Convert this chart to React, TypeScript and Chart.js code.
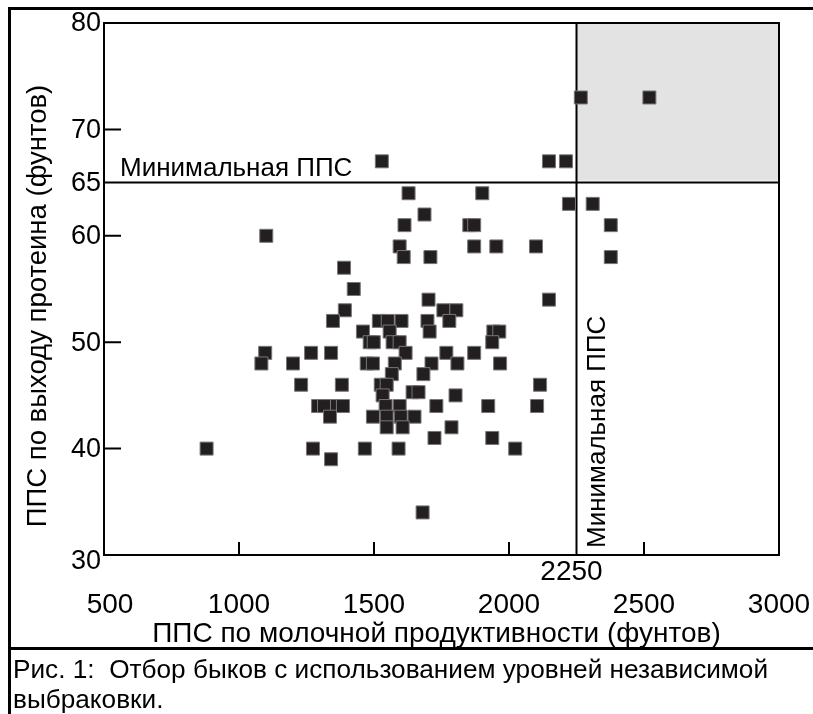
import React, { useEffect, useRef } from "react";
import { Chart, registerables } from "chart.js";

Chart.register(...registerables);

// Data: ППС по молочной продуктивности (x), ППС по выходу протеина (y)
const milkPTA = [
  880, 1101, 1097, 1083, 1200, 1267, 1341, 1230, 1381, 1293, 1315, 1363, 1385, 1337, 1274, 1341,
  1389, 1425, 1392, 1348, 1529, 1628, 1901, 1687, 1613, 1853, 1871, 1595, 1610, 1709, 1871, 1953,
  1702, 1757, 1805, 1518, 1551, 1602, 1698, 1779, 1459, 1558, 1706, 1942, 1964, 2148, 2211, 2222,
  2310, 2377, 2377, 2100, 2148, 2266, 2520, 1484, 1499, 1569, 1595, 1938, 1617, 1768, 1871, 1473,
  1496, 1577, 1713, 1809, 1967, 1566, 1683, 1525, 1547, 2115, 1532, 1643, 1665, 1802, 1543, 1595,
  1731, 1923, 2104, 1496, 1547, 1599, 1650, 1547, 1606, 1787, 1724, 1938, 1466, 1591, 2023, 1680,
];
const proteinPTA = [
  40, 60, 49, 48, 48, 49, 49, 46, 46, 44, 44, 44, 44, 43, 40, 39,
  57, 55, 53, 52, 67, 64, 64, 62, 61, 61, 61, 59, 58, 58, 59, 59,
  54, 53, 53, 52, 52, 52, 52, 52, 51, 51, 51, 51, 51, 67, 67, 63,
  63, 61, 58, 59, 54, 73, 73, 50, 50, 50, 50, 50, 49, 49, 49, 48,
  48, 48, 48, 48, 48, 47, 47, 46, 46, 46, 45, 45.3, 45.3, 45, 44, 44,
  44, 44, 44, 43, 43, 43, 43, 42, 42, 42, 41, 41, 40, 40, 40, 34,
];

const xTickMarks = [1000, 1500, 2000, 2500];
const xTickLabels = [500, 1000, 1500, 2000, 2500, 3000];
const xCutoffLabel = 2250;
const yTickMarks = [40, 50, 60, 70];
const yTickLabels = [30, 40, 50, 60, 65, 70, 80];

const milkCutoff = 2250;
const proteinCutoff = 65;

const xTitle = "ППС по молочной продуктивности (фунтов)";
const yTitle = "ППС по выходу протеина (фунтов)";
const cutoffText = "Минимальная ППС";
const captionLines = [
  "Рис. 1:  Отбор быков с использованием уровней независимой",
  "выбраковки.",
];

const FONT = '"Liberation Sans", Arial, Helvetica, sans-serif';

const figurePlugin = {
  id: "figure",
  beforeDatasetsDraw(chart: any) {
    const { ctx, chartArea, scales } = chart;
    const xs = scales.x;
    const ys = scales.y;
    ctx.save();
    // shaded selection region
    const sx = xs.getPixelForValue(milkCutoff);
    const ex = xs.getPixelForValue(3000);
    const sy = ys.getPixelForValue(80);
    const ey = ys.getPixelForValue(proteinCutoff);
    ctx.fillStyle = "#e3e3e3";
    ctx.fillRect(sx, sy, ex - sx, ey - sy - 2);

    // cutoff lines
    ctx.strokeStyle = "#000";
    ctx.lineWidth = 2;
    ctx.beginPath();
    ctx.moveTo(chartArea.left, ey);
    ctx.lineTo(chartArea.right, ey);
    ctx.moveTo(sx, chartArea.top);
    ctx.lineTo(sx, chartArea.bottom);
    ctx.stroke();

    // plot border
    ctx.strokeRect(chartArea.left, chartArea.top, chartArea.right - chartArea.left, chartArea.bottom - chartArea.top);

    // tick marks
    ctx.beginPath();
    yTickMarks.forEach((v) => {
      const y = ys.getPixelForValue(v);
      ctx.moveTo(chartArea.left, y);
      ctx.lineTo(chartArea.left + 17, y);
    });
    xTickMarks.forEach((v) => {
      const x = xs.getPixelForValue(v);
      ctx.moveTo(x, chartArea.bottom);
      ctx.lineTo(x, chartArea.bottom - 13);
    });
    ctx.stroke();

    // cutoff labels
    ctx.fillStyle = "#000";
    ctx.font = `26px ${FONT}`;
    ctx.textAlign = "left";
    ctx.textBaseline = "alphabetic";
    ctx.fillText(cutoffText, xs.getPixelForValue(500) + 16, ey - 7);

    ctx.save();
    ctx.translate(sx + 21, ys.getPixelForValue(30) - 7);
    ctx.rotate(-Math.PI / 2);
    ctx.textBaseline = "middle";
    ctx.fillText(cutoffText, 0, 0);
    ctx.restore();

    // tick labels
    ctx.font = `27px ${FONT}`;
    ctx.textAlign = "right";
    ctx.textBaseline = "middle";
    yTickLabels.forEach((v) => {
      const off = v === 30 ? 7 : 1;
      ctx.fillText(String(v), chartArea.left - 3, ys.getPixelForValue(v) + off);
    });
    ctx.font = `28px ${FONT}`;
    ctx.textAlign = "center";
    ctx.fillText(String(xCutoffLabel), xs.getPixelForValue(xCutoffLabel) - 5, chartArea.bottom + 17);
    xTickLabels.forEach((v) => {
      ctx.fillText(String(v), xs.getPixelForValue(v) + (v === 500 ? 6 : 0), chartArea.bottom + 50);
    });

    // axis titles
    ctx.font = `28px ${FONT}`;
    ctx.fillText(xTitle, (chartArea.left + chartArea.right) / 2 - 5, chartArea.bottom + 79);
    ctx.font = `27.5px ${FONT}`;
    ctx.save();
    ctx.translate(38, (chartArea.top + chartArea.bottom) / 2 + 17);
    ctx.rotate(-Math.PI / 2);
    ctx.fillText(yTitle, 0, 0);
    ctx.restore();

    // figure frame
    ctx.lineWidth = 3;
    ctx.beginPath();
    ctx.moveTo(8, 8.5);
    ctx.lineTo(813, 8.5);
    ctx.moveTo(9.5, 8);
    ctx.lineTo(9.5, 714);
    ctx.moveTo(8, 648.5);
    ctx.lineTo(813, 648.5);
    ctx.stroke();

    // caption
    ctx.font = `26.2px ${FONT}`;
    ctx.textAlign = "left";
    ctx.textBaseline = "middle";
    captionLines.forEach((line, i) => {
      ctx.fillText(line, 13, 671 + i * 30);
    });
    ctx.restore();
  },
};

export default function App() {
  const ref = useRef<HTMLCanvasElement | null>(null);
  useEffect(() => {
    if (!ref.current) return;
    const points = milkPTA.map((x, i) => ({ x, y: proteinPTA[i] }));
    const chart = new Chart(ref.current, {
      type: "scatter",
      data: {
        datasets: [
          {
            data: points,
            pointStyle: "rect",
            pointRadius: 9.2,
            pointBackgroundColor: "#231f20",
            pointBorderColor: "#777",
            pointBorderWidth: 1,
          },
        ],
      },
      options: {
        animation: false,
        responsive: false,
        devicePixelRatio: 1,
        layout: { padding: { left: 104, right: 34, top: 23, bottom: 159 } },
        plugins: { legend: { display: false }, tooltip: { enabled: false } },
        scales: {
          x: { type: "linear", min: 500, max: 3000, display: false },
          y: { type: "linear", min: 30, max: 80, display: false },
        },
      },
      plugins: [figurePlugin],
    });
    return () => chart.destroy();
  }, []);
  return (
    <div style={{ position: "absolute", left: 0, top: 0, width: 813, height: 714, background: "#fff" }}>
      <canvas ref={ref} width={813} height={714} style={{ width: 813, height: 714, display: "block" }} />
    </div>
  );
}
